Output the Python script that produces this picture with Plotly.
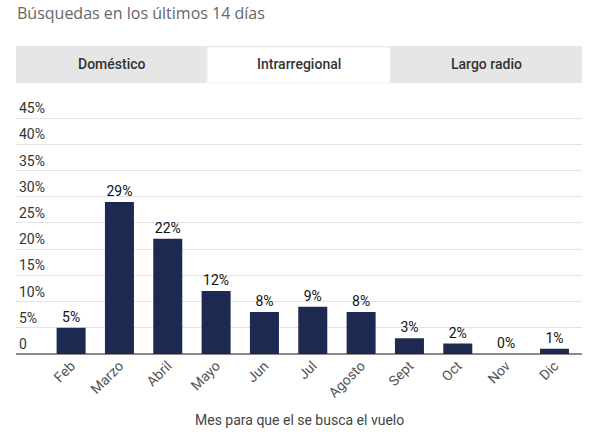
import plotly.graph_objects as go

# Data
months = ["Feb", "Marzo", "Abril", "Mayo", "Jun", "Jul", "Agosto", "Sept", "Oct", "Nov", "Dic"]
shares = [5, 29, 22, 12, 8, 9, 8, 3, 2, 0, 1]
tick_vals = [0, 5, 10, 15, 20, 25, 30, 35, 40, 45]
tick_text = ["0", "5%", "10%", "15%", "20%", "25%", "30%", "35%", "40%", "45%"]
tabs = ["Doméstico", "Intrarregional", "Largo radio"]
active_tab = "Intrarregional"
title_text = "Búsquedas en los últimos 14 días"
axis_title = "Mes para que el se busca el vuelo"

W, H = 600, 434
L, R, T, B = 16, 18, 100, 80


def px(x, y):
    # pixel position -> paper coords
    pw = W - L - R
    ph = H - T - B
    return (x - L) / pw, (H - B - y) / ph


fig = go.Figure()
fig.add_trace(go.Bar(
    x=months,
    y=shares,
    width=0.6,
    marker=dict(color="#1e2952", line=dict(width=0)),
    text=[f"{v}%" for v in shares],
    textposition="outside",
    cliponaxis=False,
    textfont=dict(family="Roboto", size=14, color="#111111"),
    hoverinfo="skip",
))

# tab strip
x0, y0 = px(16, 46)
x1, y1 = px(582, 83)
fig.add_shape(type="rect", xref="paper", yref="paper", x0=x0, x1=x1, y0=y1, y1=y0,
              fillcolor="#e6e6e6", line=dict(width=0), layer="below")
tab_edges = [16, 207, 390, 582]
for i, name in enumerate(tabs):
    a, _ = px(tab_edges[i], 0)
    b, _ = px(tab_edges[i + 1], 0)
    if name == active_tab:
        _, top = px(0, 47)
        fig.add_shape(type="rect", xref="paper", yref="paper", x0=a, x1=b, y0=y1, y1=top,
                      fillcolor="white", line=dict(width=1, color="#eeeeee"), layer="below")
    _, ty = px(0, 64)
    fig.add_annotation(x=(a + b) / 2, y=ty, xref="paper", yref="paper", text=name,
                       showarrow=False, xanchor="center", yanchor="middle",
                       font=dict(family="Roboto", size=14, color="#333333", weight=500))

tx, tyy = px(15, 13)
fig.add_annotation(x=tx, y=tyy, xref="paper", yref="paper", text=title_text,
                   showarrow=False, xanchor="left", yanchor="middle",
                   font=dict(family="Open Sans", size=16, color="#666666"))

ax, ay = px(299, 420)
fig.add_annotation(x=ax, y=ay, xref="paper", yref="paper", text=axis_title,
                   showarrow=False, xanchor="center", yanchor="middle",
                   font=dict(family="Roboto", size=14, color="#444444"))

fig.update_layout(
    width=W, height=H,
    margin=dict(l=L, r=R, t=T, b=B),
    paper_bgcolor="white",
    plot_bgcolor="white",
    showlegend=False,
    font=dict(family="Roboto"),
    xaxis=dict(
        range=[-1.14, 10.57],
        tickangle=-45,
        tickfont=dict(family="Roboto", size=14, color="#555555"),
        showgrid=False,
        showline=False,
        ticks="",
        fixedrange=True,
    ),
    yaxis=dict(
        range=[0, 45 + (118 - 100) / 26.17 * 5],
        tickvals=tick_vals,
        ticktext=tick_text,
        ticklabelposition="inside top",
        tickfont=dict(family="Roboto", size=14, color="#333333"),
        showgrid=True,
        gridcolor="#e3e3e3",
        gridwidth=1,
        zeroline=True,
        zerolinecolor="#8a8a8a",
        zerolinewidth=2,
        showline=False,
        ticks="",
        fixedrange=True,
    ),
)

# drop the default body margin so the figure sits at the window's corner
fig.write_html("out.html", config={"displayModeBar": False},
               post_script="document.body.style.margin='0';")
